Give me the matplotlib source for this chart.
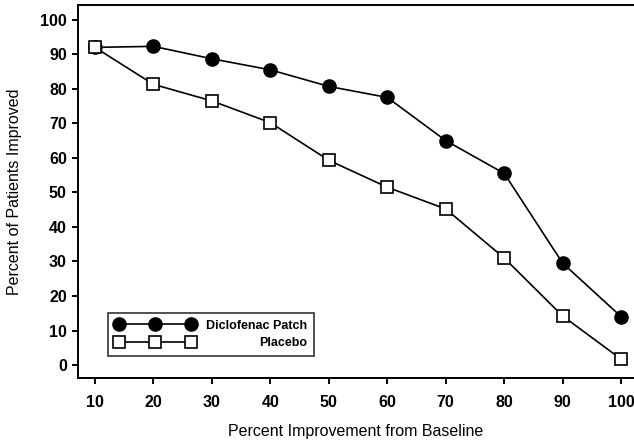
import matplotlib
matplotlib.use("Agg")
import matplotlib.pyplot as plt

# values
improvement = [10, 20, 30, 40, 50, 60, 70, 80, 90, 100]
diclofenac = [92, 92.3, 88.7, 85.5, 80.7, 77.5, 65, 55.5, 29.5, 14]
placebo = [92, 81.3, 76.5, 70.2, 59.3, 51.5, 45.2, 31, 14.2, 1.7]
y_ticks = [0, 10, 20, 30, 40, 50, 60, 70, 80, 90, 100]

plt.rcParams["font.family"] = ["Liberation Sans Narrow", "Liberation Sans", "DejaVu Sans"]

fig = plt.figure(figsize=(6.34, 4.47), dpi=100)
ax = fig.add_axes([0.123, 0.154, 0.877, 0.835])

ax.plot(improvement, diclofenac, color="black", lw=1.2, marker="o",
        markersize=9.5, markerfacecolor="black", markeredgecolor="black",
        label="Diclofenac Patch", zorder=3)
ax.plot(improvement, placebo, color="black", lw=1.2, marker="s",
        markersize=8.5, markerfacecolor="white", markeredgecolor="black",
        markeredgewidth=1.2, label="Placebo", zorder=3)

ax.set_xlim(7.1, 102.2)
ax.set_ylim(-3.8, 104.3)
ax.set_xticks(improvement)
ax.set_yticks(y_ticks)
ax.tick_params(direction="out", length=4, width=1.4, labelsize=11.5, pad=4)
ax.tick_params(axis="x", pad=8)
for lab in ax.get_xticklabels() + ax.get_yticklabels():
    lab.set_fontweight("bold")

ax.spines["right"].set_visible(False)
for side in ("left", "bottom", "top"):
    ax.spines[side].set_linewidth(1.4)

ax.set_xlabel("Percent Improvement from Baseline", fontsize=11.5, labelpad=10)
ax.set_ylabel("Percent of Patients Improved", fontsize=11.5, labelpad=13)

leg = ax.legend(loc="lower left", bbox_to_anchor=(0.054, 0.059), numpoints=3,
                handlelength=6.4, handletextpad=0.9, fontsize=9, frameon=True,
                fancybox=False, edgecolor="black", borderpad=0.55,
                labelspacing=0.45, borderaxespad=0)
leg.get_frame().set_linewidth(1.2)
for t in leg.get_texts():
    t.set_fontweight("bold")

# right-align the legend labels like the original
renderer = fig.canvas.get_renderer()
texts = leg.get_texts()
widths = [t.get_window_extent(renderer).width for t in texts]
for t, w in zip(texts, widths):
    t.set_x(max(widths) - w)

fig.savefig("out.png", dpi=100)
